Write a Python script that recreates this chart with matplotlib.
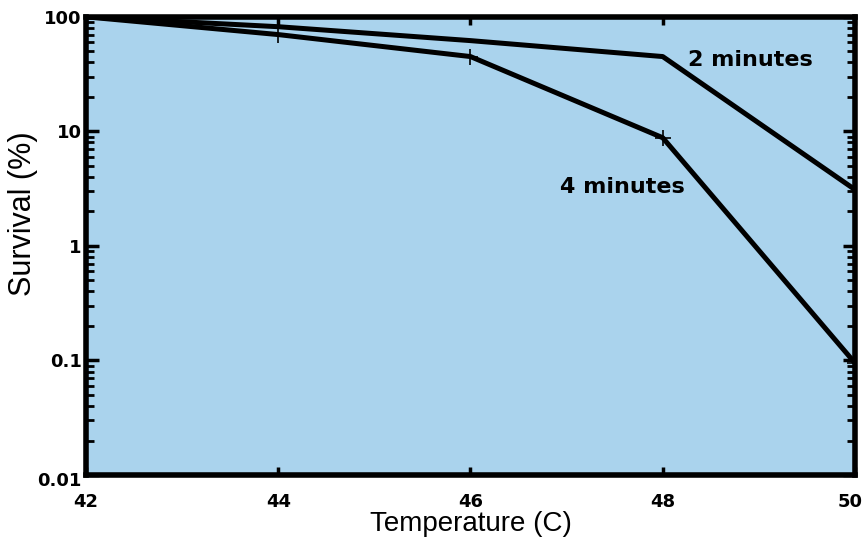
import matplotlib.pyplot as plt
import numpy as np
from matplotlib.ticker import LogLocator, NullFormatter
from matplotlib.transforms import ScaledTranslation

temps = [42, 44, 46, 48, 50]
surv_2min = [100, 82, 62, 45, 3.1]
surv_4min = [100, 70, 45, 8.8, 0.095]
xtick_labels = ['42', '44', '46', '48', '50']
ytick_vals = [0.01, 0.1, 1, 10, 100]
ytick_labels = ['0.01', '0.1', '1', '10', '100']


def shift(label, fig, dx, dy):
    # nudge a tick label by a few pixels
    label.set_transform(label.get_transform() +
                        ScaledTranslation(dx / 100, dy / 100, fig.dpi_scale_trans))


def main():
    plt.rcParams['font.family'] = ['Liberation Sans', 'DejaVu Sans']
    fig = plt.figure(figsize=(8.65, 5.52), dpi=100)
    ax = fig.add_axes([0.0994, 0.1395, 0.889, 0.830])
    ax.set_facecolor('#aad3ed')

    ax.plot(temps, surv_2min, color='black', lw=3.6, solid_capstyle='butt')
    ax.plot(temps, surv_4min, color='black', lw=3.6, solid_capstyle='butt',
            marker='+', ms=12, mew=1.2)

    ax.set_yscale('log')
    ax.set_xlim(42, 50)
    ax.set_ylim(0.01, 100)

    tick_font = dict(family='DejaVu Sans', size=13, weight='bold')
    ax.set_xticks(temps)
    ax.set_xticklabels(xtick_labels, fontdict=tick_font)
    ax.set_yticks(ytick_vals)
    ax.set_yticklabels(ytick_labels, fontdict=tick_font)
    ax.yaxis.set_minor_locator(LogLocator(base=10, subs=np.arange(2, 10)))
    ax.yaxis.set_minor_formatter(NullFormatter())

    ax.tick_params(axis='y', which='major', direction='in', length=9, width=2.5,
                   right=True, pad=3)
    ax.tick_params(axis='y', which='minor', direction='in', length=6, width=2,
                   right=True)
    ax.tick_params(axis='x', which='major', direction='in', length=6, width=2.5,
                   top=True, pad=13)

    # 0.01 sits a little below the corner, 50 a little left of the edge
    shift(ax.get_yticklabels()[0], fig, 0, -4)
    shift(ax.get_xticklabels()[-1], fig, -5, 0)

    for s in ax.spines.values():
        s.set_linewidth(4)

    label_font = dict(family='DejaVu Sans', size=16, weight='bold')
    ax.text(48.26, 42, '2 minutes', fontdict=label_font, va='center')
    ax.text(46.93, 3.3, '4 minutes', fontdict=label_font, va='center')

    ax.set_xlabel('Temperature (C)', fontsize=20, labelpad=0)
    ax.set_ylabel('Survival (%)', fontsize=22)
    ax.yaxis.set_label_coords(-0.062, 0.57)

    fig.savefig('out.png', dpi=100)


if __name__ == "__main__":
    main()
